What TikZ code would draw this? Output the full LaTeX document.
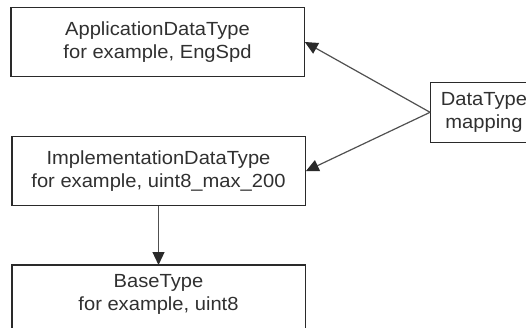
\documentclass[tikz,border=0pt]{standalone}
\usepackage{fontspec}
\setmainfont{Liberation Sans}[FakeStretch=1.06]
\usetikzlibrary{arrows.meta,calc}
\definecolor{txt}{HTML}{303030}
\definecolor{ln}{HTML}{2A2A2A}
\definecolor{arr}{HTML}{505050}
\begin{document}
\begin{tikzpicture}[x=1pt,y=-1pt,
  box/.style={draw=ln, line width=1.3pt, align=center, text=txt,
    font=\fontsize{19}{23.5}\selectfont, inner sep=0pt},
  conn/.style={draw=arr, line width=1.2pt, -{Triangle[length=13pt,width=12pt,color=ln,fill=ln]}}]
\useasboundingbox (0,0) rectangle (526,328);
\clip (0,0) rectangle (526,328);
\node[box, minimum width=293.3pt, minimum height=69.3pt] (app) at (157.5,42)
  {ApplicationDataType\\for example, EngSpd};
\node[box, minimum width=293.3pt, minimum height=69pt] (impl) at (158.5,171.2)
  {ImplementationDataType\\for example, uint8\_max\_200};
\node[box, draw=none, minimum width=292pt, minimum height=58pt, anchor=north] (base) at (158.5,265)
  {BaseType\\for example, uint8};
\draw[ln, line width=1.3pt] (base.north west) rectangle ($(base.south east)+(0,20)$);
\node[box, minimum width=106.6pt, minimum height=60pt] (dt) at (484,112.3)
  {DataType\\mapping};
\draw[conn] (dt.west) -- (app.east);
\draw[conn] (dt.west) -- (impl.east);
\draw[conn] (impl.south) -- (base.north);
\end{tikzpicture}
\end{document}
